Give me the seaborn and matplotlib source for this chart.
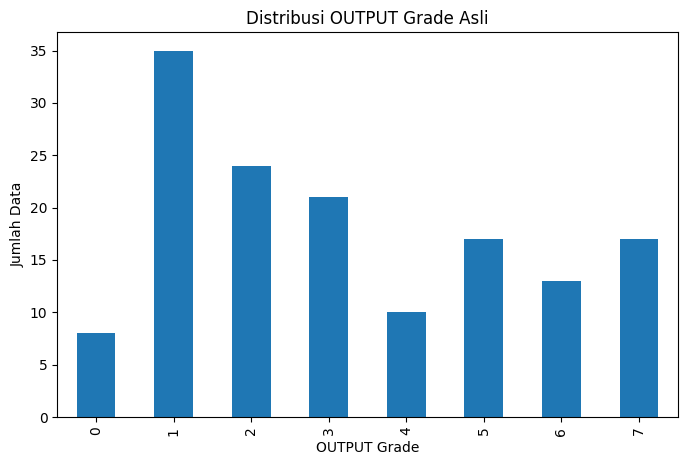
import matplotlib
matplotlib.use("Agg")
import matplotlib.pyplot as plt
import seaborn as sns
import pandas as pd

grades = ["0", "1", "2", "3", "4", "5", "6", "7"]
counts = [8, 35, 24, 21, 10, 17, 13, 17]

df = pd.DataFrame({"OUTPUT Grade": grades, "Jumlah Data": counts})

fig = plt.figure(figsize=(6.86, 4.65), dpi=100)
left, right, bottom, top = 0.0835, 0.9879, 0.1032, 0.9305
ax = fig.add_axes([left, bottom, right - left, top - bottom])
sns.barplot(data=df, x="OUTPUT Grade", y="Jumlah Data", color="#1f77b4",
            saturation=1, width=0.5, ax=ax)
ax.set_xlim(-0.5, 7.5)
ax.set_ylim(0, 36.75)
ax.set_yticks(range(0, 36, 5))
ax.tick_params(axis="x", rotation=90)
ax.set_title("Distribusi OUTPUT Grade Asli")
ax.set_xlabel("OUTPUT Grade")
ax.set_ylabel("Jumlah Data")
fig.savefig("out.png", dpi=100)
